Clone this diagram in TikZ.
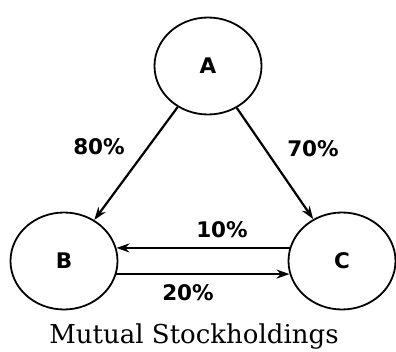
\documentclass[tikz,border=0pt]{standalone}
\usepackage{fontspec}
\setmainfont{DejaVu Serif}
\newfontfamily\lblfont{DejaVu Sans}
\usepackage{tikz}
\usetikzlibrary{arrows.meta,shapes.geometric}
\tikzset{firm/.style={draw,ellipse,line width=1.8pt,minimum width=107pt,minimum height=97pt,font=\lblfont\bfseries\fontsize{21.5}{21.5}\selectfont},
pct/.style={font=\lblfont\bfseries\fontsize{21.5}{21.5}\selectfont},
hold/.style={-{Stealth[length=13pt,width=9pt]},line width=2.2pt}}
\begin{document}
\begin{tikzpicture}[x=1pt,y=1pt]
\useasboundingbox(0,0)rectangle(396,351);
\node[firm](A)at(208,285){A};
\node[firm](B)at(64,90){B};
\node[firm](C)at(342,90){C};
\draw[hold](A)--(B);
\draw[hold](A)--(C);
\draw[hold](C.166)--(B.14);
\draw[hold](B.-14)--(C.-166);
\node[pct](ab)at(99,204){80\%};
\node[pct](ac)at(313,202){70\%};
\node[pct](cb)at(222,121){10\%};
\node[pct](bc)at(188,58){20\%};
\node[font=\fontsize{26}{26}\selectfont,anchor=base](cap)at(194,8){Mutual Stockholdings};
\end{tikzpicture}
\end{document}
